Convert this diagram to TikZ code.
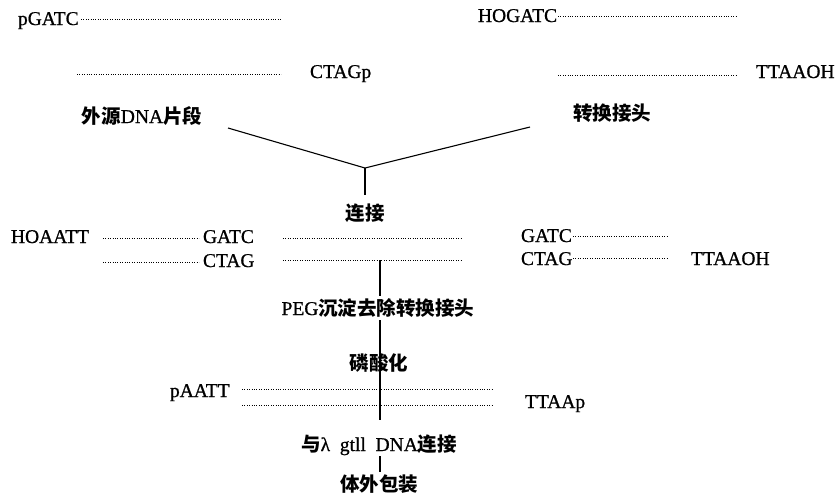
\documentclass[tikz,border=0pt]{standalone}
\usepackage{fontspec}
\setmainfont{Liberation Serif}[FakeBold=0.8]
\newfontfamily\cjkf{Noto Sans CJK SC}
\newcommand\cjk{\cjkf\bfseries}
\begin{document}
\begin{tikzpicture}[x=1pt,y=-1pt,
  lbl/.style={inner sep=0pt, outer sep=3pt, font=\fontsize{19.5}{22}\selectfont},
  zh/.style={lbl, text height=16pt, text depth=2pt},
  strand/.style={line width=0.6pt, dash pattern=on 0.8pt off 1.6pt},
  conn/.style={line width=1.1pt}]
\useasboundingbox (0,0) rectangle (836,499);
% ---------- top: fragment and adaptor ----------
\node[lbl, anchor=base west] (pg)  at (15,25)  {pGATC};
\node[lbl, anchor=base west] (ctp) at (307,78) {CTAGp};
\node[lbl, anchor=base west] (hog) at (475,22) {HOGATC};
\node[lbl, anchor=base west] (tto) at (753,78) {TTAAOH};
\draw[strand] (81,19) -- (281,19);
\draw[strand] (77,74) -- (281,74);
\draw[strand] (558,16) -- (737,16);
\draw[strand] (558,75) -- (736,75);
\node[zh] (frag) at (142,116) {{\cjk 外源}DNA{\cjk 片段}};
\node[zh] (adap) at (612,113) {\cjk 转换接头};
% ---------- ligation ----------
\coordinate (vl) at (228,128);
\coordinate (vr) at (530,127);
\coordinate (vj) at (365,168);
\node[zh] (lig) at (365,213) {\cjk 连接};
\draw[conn] (vl) -- (vj) -- (vr);
\draw[conn, shorten >=6pt] (vj) -- (lig.north);
% ---------- ligated products ----------
\node[lbl, anchor=base west] (hoa) at (8,243)   {HOAATT};
\node[lbl, anchor=base west] (g1)  at (200,243) {GATC};
\node[lbl, anchor=base west] (c1)  at (200,267) {CTAG};
\node[lbl, anchor=base west] (g2)  at (518,242) {GATC};
\node[lbl, anchor=base west] (c2)  at (518,265) {CTAG};
\node[lbl, anchor=base west] (tto2) at (688,265) {TTAAOH};
\draw[strand] (103,238) -- (199,238);
\draw[strand] (103,262) -- (199,262);
\draw[strand] (283,238) -- (462,238);
\draw[strand] (283,260) -- (462,260);
\draw[strand] (573,236) -- (668,236);
\draw[strand] (573,258) -- (668,258);
% ---------- processing steps ----------
\coordinate (m0) at (380,260);
\node[zh] (peg)  at (378,308) {PEG{\cjk 沉淀去除转换接头}};
\node[zh] (phos) at (379,363) {\cjk 磷酸化};
\node[zh] (lam)  at (379,444) {{\cjk 与}λ\ \ gtll\ \ DNA{\cjk 连接}};
\node[zh] (pack) at (379,484) {\cjk 体外包装};
\node[lbl, anchor=base west] (paa) at (167,397) {pAATT};
\node[lbl, anchor=base west] (ttp) at (522,408) {TTAAp};
\draw[strand] (242,389) -- (493,389);
\draw[strand] (242,405) -- (493,405);
\draw[conn] (m0) -- (m0 |- peg.north);
\draw[conn, shorten >=12pt] (m0 |- peg.south) -- (m0 |- lam.north);
\draw[conn] (m0 |- lam.south) -- (m0 |- pack.north);
\end{tikzpicture}
\end{document}
